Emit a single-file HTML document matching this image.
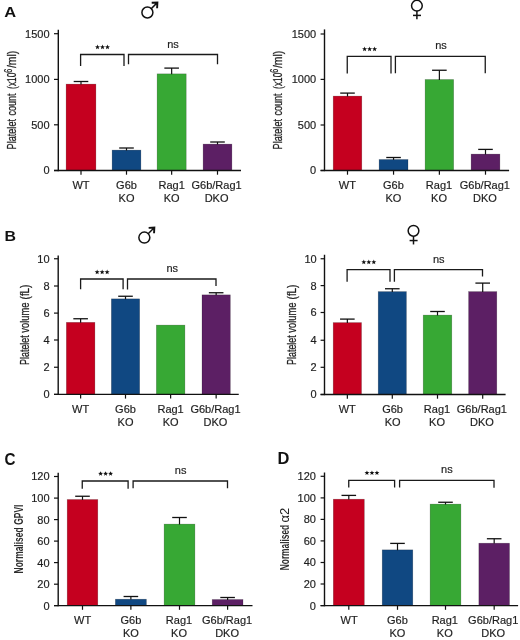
<!DOCTYPE html>
<html><head><meta charset="utf-8"><style>
html,body{margin:0;padding:0;background:#fff;}
body{width:520px;height:640px;overflow:hidden;}
svg{display:block;will-change:transform;}
text{font-family:"Liberation Sans", sans-serif;}
</style></head><body>
<svg width="520" height="640" viewBox="0 0 520 640">
<rect x="66.10" y="84.10" width="29.80" height="86.40" fill="#c5001f" stroke="rgba(0,0,0,0.3)" stroke-width="0.6"/>
<line x1="81.00" y1="81.50" x2="81.00" y2="84.50" stroke="#111" stroke-width="1.2"/>
<line x1="73.70" y1="81.50" x2="88.30" y2="81.50" stroke="#111" stroke-width="1.3"/>
<rect x="112.10" y="150.10" width="28.80" height="20.40" fill="#104882" stroke="rgba(0,0,0,0.3)" stroke-width="0.6"/>
<line x1="126.50" y1="148.00" x2="126.50" y2="150.50" stroke="#111" stroke-width="1.2"/>
<line x1="119.20" y1="148.00" x2="133.80" y2="148.00" stroke="#111" stroke-width="1.3"/>
<rect x="157.10" y="73.85" width="29.10" height="96.65" fill="#37a834" stroke="rgba(0,0,0,0.3)" stroke-width="0.6"/>
<line x1="171.65" y1="68.10" x2="171.65" y2="74.25" stroke="#111" stroke-width="1.2"/>
<line x1="164.35" y1="68.10" x2="178.95" y2="68.10" stroke="#111" stroke-width="1.3"/>
<rect x="203.10" y="144.10" width="28.80" height="26.40" fill="#5c1f64" stroke="rgba(0,0,0,0.3)" stroke-width="0.6"/>
<line x1="217.50" y1="142.00" x2="217.50" y2="144.50" stroke="#111" stroke-width="1.2"/>
<line x1="210.20" y1="142.00" x2="224.80" y2="142.00" stroke="#111" stroke-width="1.3"/>
<line x1="58.30" y1="29.75" x2="58.30" y2="171.15" stroke="#111" stroke-width="1.4"/>
<line x1="54.00" y1="170.50" x2="241.00" y2="170.50" stroke="#111" stroke-width="1.4"/>
<line x1="54.00" y1="33.70" x2="58.30" y2="33.70" stroke="#111" stroke-width="1.2"/>
<text x="49.60" y="37.65" font-size="11" text-anchor="end" fill="#1e1e1e" stroke="#1e1e1e" stroke-width="0.18">1500</text>
<line x1="54.00" y1="79.40" x2="58.30" y2="79.40" stroke="#111" stroke-width="1.2"/>
<text x="49.60" y="83.35" font-size="11" text-anchor="end" fill="#1e1e1e" stroke="#1e1e1e" stroke-width="0.18">1000</text>
<line x1="54.00" y1="124.80" x2="58.30" y2="124.80" stroke="#111" stroke-width="1.2"/>
<text x="49.60" y="128.75" font-size="11" text-anchor="end" fill="#1e1e1e" stroke="#1e1e1e" stroke-width="0.18">500</text>
<line x1="54.00" y1="170.50" x2="58.30" y2="170.50" stroke="#111" stroke-width="1.2"/>
<text x="49.60" y="174.45" font-size="11" text-anchor="end" fill="#1e1e1e" stroke="#1e1e1e" stroke-width="0.18">0</text>
<line x1="81.00" y1="170.50" x2="81.00" y2="174.70" stroke="#111" stroke-width="1.2"/>
<line x1="126.50" y1="170.50" x2="126.50" y2="174.70" stroke="#111" stroke-width="1.2"/>
<line x1="171.65" y1="170.50" x2="171.65" y2="174.70" stroke="#111" stroke-width="1.2"/>
<line x1="217.50" y1="170.50" x2="217.50" y2="174.70" stroke="#111" stroke-width="1.2"/>
<text x="81.00" y="188.60" font-size="11" text-anchor="middle" fill="#1e1e1e" stroke="#1e1e1e" stroke-width="0.18">WT</text>
<text x="126.50" y="188.60" font-size="11" text-anchor="middle" fill="#1e1e1e" stroke="#1e1e1e" stroke-width="0.18">G6b</text>
<text x="126.50" y="201.80" font-size="11" text-anchor="middle" fill="#1e1e1e" stroke="#1e1e1e" stroke-width="0.18">KO</text>
<text x="171.70" y="188.60" font-size="11" text-anchor="middle" fill="#1e1e1e" stroke="#1e1e1e" stroke-width="0.18">Rag1</text>
<text x="171.70" y="201.80" font-size="11" text-anchor="middle" fill="#1e1e1e" stroke="#1e1e1e" stroke-width="0.18">KO</text>
<text x="216.60" y="188.60" font-size="11" text-anchor="middle" fill="#1e1e1e" stroke="#1e1e1e" stroke-width="0.18">G6b/Rag1</text>
<text x="216.60" y="201.80" font-size="11" text-anchor="middle" fill="#1e1e1e" stroke="#1e1e1e" stroke-width="0.18">DKO</text>
<path d="M80.60 65.90 V54.50 H124.00 V65.90" fill="none" stroke="#1a1a1a" stroke-width="1.3"/>
<path d="M128.50 64.30 V54.50 H217.50 V64.30" fill="none" stroke="#1a1a1a" stroke-width="1.3"/>
<polygon points="97.50,44.60 98.15,46.31 99.97,46.40 98.55,47.54 99.03,49.30 97.50,48.30 95.97,49.30 96.45,47.54 95.03,46.40 96.85,46.31" fill="#111"/>
<polygon points="102.50,44.60 103.15,46.31 104.97,46.40 103.55,47.54 104.03,49.30 102.50,48.30 100.97,49.30 101.45,47.54 100.03,46.40 101.85,46.31" fill="#111"/>
<polygon points="107.50,44.60 108.15,46.31 109.97,46.40 108.55,47.54 109.03,49.30 107.50,48.30 105.97,49.30 106.45,47.54 105.03,46.40 106.85,46.31" fill="#111"/>
<text x="173.00" y="47.50" font-size="11" text-anchor="middle" fill="#1e1e1e" stroke="#1e1e1e" stroke-width="0.18">ns</text>
<text x="0" y="0" font-size="12.3" fill="#1e1e1e" stroke="#1e1e1e" stroke-width="0.28" textLength="30.40" lengthAdjust="spacingAndGlyphs" transform="translate(15.80,149.40) rotate(-90)">Platelet</text>
<text x="0" y="0" font-size="12.3" fill="#1e1e1e" stroke="#1e1e1e" stroke-width="0.28" textLength="22.20" lengthAdjust="spacingAndGlyphs" transform="translate(15.80,115.60) rotate(-90)">count</text>
<text x="0" y="0" font-size="12.3" fill="#1e1e1e" stroke="#1e1e1e" stroke-width="0.28" textLength="16.40" lengthAdjust="spacingAndGlyphs" transform="translate(15.80,88.90) rotate(-90)">(x10</text>
<text x="0" y="0" font-size="10" fill="#1e1e1e" stroke="#1e1e1e" stroke-width="0.28" textLength="4.00" lengthAdjust="spacingAndGlyphs" transform="translate(11.60,72.70) rotate(-90)">6</text>
<text x="0" y="0" font-size="12.3" fill="#1e1e1e" stroke="#1e1e1e" stroke-width="0.28" textLength="17.30" lengthAdjust="spacingAndGlyphs" transform="translate(15.80,68.10) rotate(-90)">/ml)</text>
<text x="4.30" y="16.90" font-size="15" text-anchor="start" fill="#111" font-weight="bold" textLength="11.90" lengthAdjust="spacingAndGlyphs">A</text>
<rect x="333.20" y="96.10" width="28.60" height="74.40" fill="#c5001f" stroke="rgba(0,0,0,0.3)" stroke-width="0.6"/>
<line x1="347.50" y1="93.10" x2="347.50" y2="96.50" stroke="#111" stroke-width="1.2"/>
<line x1="340.20" y1="93.10" x2="354.80" y2="93.10" stroke="#111" stroke-width="1.3"/>
<rect x="379.10" y="159.50" width="28.90" height="11.00" fill="#104882" stroke="rgba(0,0,0,0.3)" stroke-width="0.6"/>
<line x1="393.55" y1="157.50" x2="393.55" y2="159.90" stroke="#111" stroke-width="1.2"/>
<line x1="386.25" y1="157.50" x2="400.85" y2="157.50" stroke="#111" stroke-width="1.3"/>
<rect x="425.10" y="79.50" width="28.55" height="91.00" fill="#37a834" stroke="rgba(0,0,0,0.3)" stroke-width="0.6"/>
<line x1="439.38" y1="70.25" x2="439.38" y2="79.90" stroke="#111" stroke-width="1.2"/>
<line x1="432.07" y1="70.25" x2="446.68" y2="70.25" stroke="#111" stroke-width="1.3"/>
<rect x="471.10" y="154.10" width="28.80" height="16.40" fill="#5c1f64" stroke="rgba(0,0,0,0.3)" stroke-width="0.6"/>
<line x1="485.50" y1="149.40" x2="485.50" y2="154.50" stroke="#111" stroke-width="1.2"/>
<line x1="478.20" y1="149.40" x2="492.80" y2="149.40" stroke="#111" stroke-width="1.3"/>
<line x1="324.50" y1="29.40" x2="324.50" y2="171.15" stroke="#111" stroke-width="1.4"/>
<line x1="320.60" y1="170.50" x2="509.10" y2="170.50" stroke="#111" stroke-width="1.4"/>
<line x1="320.60" y1="34.00" x2="324.50" y2="34.00" stroke="#111" stroke-width="1.2"/>
<text x="316.15" y="37.95" font-size="11" text-anchor="end" fill="#1e1e1e" stroke="#1e1e1e" stroke-width="0.18">1500</text>
<line x1="320.60" y1="79.40" x2="324.50" y2="79.40" stroke="#111" stroke-width="1.2"/>
<text x="316.15" y="83.35" font-size="11" text-anchor="end" fill="#1e1e1e" stroke="#1e1e1e" stroke-width="0.18">1000</text>
<line x1="320.60" y1="125.00" x2="324.50" y2="125.00" stroke="#111" stroke-width="1.2"/>
<text x="316.15" y="128.95" font-size="11" text-anchor="end" fill="#1e1e1e" stroke="#1e1e1e" stroke-width="0.18">500</text>
<line x1="320.60" y1="170.50" x2="324.50" y2="170.50" stroke="#111" stroke-width="1.2"/>
<text x="316.15" y="174.45" font-size="11" text-anchor="end" fill="#1e1e1e" stroke="#1e1e1e" stroke-width="0.18">0</text>
<line x1="347.50" y1="170.50" x2="347.50" y2="174.70" stroke="#111" stroke-width="1.2"/>
<line x1="393.55" y1="170.50" x2="393.55" y2="174.70" stroke="#111" stroke-width="1.2"/>
<line x1="439.38" y1="170.50" x2="439.38" y2="174.70" stroke="#111" stroke-width="1.2"/>
<line x1="485.50" y1="170.50" x2="485.50" y2="174.70" stroke="#111" stroke-width="1.2"/>
<text x="347.40" y="188.60" font-size="11" text-anchor="middle" fill="#1e1e1e" stroke="#1e1e1e" stroke-width="0.18">WT</text>
<text x="393.40" y="188.60" font-size="11" text-anchor="middle" fill="#1e1e1e" stroke="#1e1e1e" stroke-width="0.18">G6b</text>
<text x="393.40" y="201.80" font-size="11" text-anchor="middle" fill="#1e1e1e" stroke="#1e1e1e" stroke-width="0.18">KO</text>
<text x="439.00" y="188.60" font-size="11" text-anchor="middle" fill="#1e1e1e" stroke="#1e1e1e" stroke-width="0.18">Rag1</text>
<text x="439.00" y="201.80" font-size="11" text-anchor="middle" fill="#1e1e1e" stroke="#1e1e1e" stroke-width="0.18">KO</text>
<text x="484.90" y="188.60" font-size="11" text-anchor="middle" fill="#1e1e1e" stroke="#1e1e1e" stroke-width="0.18">G6b/Rag1</text>
<text x="484.90" y="201.80" font-size="11" text-anchor="middle" fill="#1e1e1e" stroke="#1e1e1e" stroke-width="0.18">DKO</text>
<path d="M347.25 73.40 V56.40 H391.00 V73.40" fill="none" stroke="#1a1a1a" stroke-width="1.3"/>
<path d="M395.40 73.30 V56.40 H485.25 V73.30" fill="none" stroke="#1a1a1a" stroke-width="1.3"/>
<polygon points="364.60,46.50 365.25,48.21 367.07,48.30 365.65,49.44 366.13,51.20 364.60,50.20 363.07,51.20 363.55,49.44 362.13,48.30 363.95,48.21" fill="#111"/>
<polygon points="369.60,46.50 370.25,48.21 372.07,48.30 370.65,49.44 371.13,51.20 369.60,50.20 368.07,51.20 368.55,49.44 367.13,48.30 368.95,48.21" fill="#111"/>
<polygon points="374.60,46.50 375.25,48.21 377.07,48.30 375.65,49.44 376.13,51.20 374.60,50.20 373.07,51.20 373.55,49.44 372.13,48.30 373.95,48.21" fill="#111"/>
<text x="441.00" y="49.40" font-size="11" text-anchor="middle" fill="#1e1e1e" stroke="#1e1e1e" stroke-width="0.18">ns</text>
<text x="0" y="0" font-size="12.3" fill="#1e1e1e" stroke="#1e1e1e" stroke-width="0.28" textLength="30.40" lengthAdjust="spacingAndGlyphs" transform="translate(281.90,149.40) rotate(-90)">Platelet</text>
<text x="0" y="0" font-size="12.3" fill="#1e1e1e" stroke="#1e1e1e" stroke-width="0.28" textLength="22.20" lengthAdjust="spacingAndGlyphs" transform="translate(281.90,115.60) rotate(-90)">count</text>
<text x="0" y="0" font-size="12.3" fill="#1e1e1e" stroke="#1e1e1e" stroke-width="0.28" textLength="16.40" lengthAdjust="spacingAndGlyphs" transform="translate(281.90,88.90) rotate(-90)">(x10</text>
<text x="0" y="0" font-size="10" fill="#1e1e1e" stroke="#1e1e1e" stroke-width="0.28" textLength="4.00" lengthAdjust="spacingAndGlyphs" transform="translate(278.00,72.70) rotate(-90)">6</text>
<text x="0" y="0" font-size="12.3" fill="#1e1e1e" stroke="#1e1e1e" stroke-width="0.28" textLength="17.30" lengthAdjust="spacingAndGlyphs" transform="translate(281.90,68.10) rotate(-90)">/ml)</text>
<rect x="66.35" y="322.35" width="28.55" height="72.05" fill="#c5001f" stroke="rgba(0,0,0,0.3)" stroke-width="0.6"/>
<line x1="80.62" y1="318.75" x2="80.62" y2="322.75" stroke="#111" stroke-width="1.2"/>
<line x1="73.33" y1="318.75" x2="87.92" y2="318.75" stroke="#111" stroke-width="1.3"/>
<rect x="111.35" y="298.85" width="28.30" height="95.55" fill="#104882" stroke="rgba(0,0,0,0.3)" stroke-width="0.6"/>
<line x1="125.50" y1="296.25" x2="125.50" y2="299.25" stroke="#111" stroke-width="1.2"/>
<line x1="118.20" y1="296.25" x2="132.80" y2="296.25" stroke="#111" stroke-width="1.3"/>
<rect x="156.35" y="325.10" width="28.55" height="69.30" fill="#37a834" stroke="rgba(0,0,0,0.3)" stroke-width="0.6"/>
<rect x="202.00" y="294.85" width="28.30" height="99.55" fill="#5c1f64" stroke="rgba(0,0,0,0.3)" stroke-width="0.6"/>
<line x1="216.15" y1="292.75" x2="216.15" y2="295.25" stroke="#111" stroke-width="1.2"/>
<line x1="208.85" y1="292.75" x2="223.45" y2="292.75" stroke="#111" stroke-width="1.3"/>
<line x1="58.20" y1="255.40" x2="58.20" y2="395.05" stroke="#111" stroke-width="1.4"/>
<line x1="54.00" y1="394.40" x2="238.75" y2="394.40" stroke="#111" stroke-width="1.4"/>
<line x1="54.00" y1="258.75" x2="58.20" y2="258.75" stroke="#111" stroke-width="1.2"/>
<text x="49.60" y="262.70" font-size="11" text-anchor="end" fill="#1e1e1e" stroke="#1e1e1e" stroke-width="0.18">10</text>
<line x1="54.00" y1="286.00" x2="58.20" y2="286.00" stroke="#111" stroke-width="1.2"/>
<text x="49.60" y="289.95" font-size="11" text-anchor="end" fill="#1e1e1e" stroke="#1e1e1e" stroke-width="0.18">8</text>
<line x1="54.00" y1="313.10" x2="58.20" y2="313.10" stroke="#111" stroke-width="1.2"/>
<text x="49.60" y="317.05" font-size="11" text-anchor="end" fill="#1e1e1e" stroke="#1e1e1e" stroke-width="0.18">6</text>
<line x1="54.00" y1="340.00" x2="58.20" y2="340.00" stroke="#111" stroke-width="1.2"/>
<text x="49.60" y="343.95" font-size="11" text-anchor="end" fill="#1e1e1e" stroke="#1e1e1e" stroke-width="0.18">4</text>
<line x1="54.00" y1="367.25" x2="58.20" y2="367.25" stroke="#111" stroke-width="1.2"/>
<text x="49.60" y="371.20" font-size="11" text-anchor="end" fill="#1e1e1e" stroke="#1e1e1e" stroke-width="0.18">2</text>
<line x1="54.00" y1="394.40" x2="58.20" y2="394.40" stroke="#111" stroke-width="1.2"/>
<text x="49.60" y="398.35" font-size="11" text-anchor="end" fill="#1e1e1e" stroke="#1e1e1e" stroke-width="0.18">0</text>
<line x1="80.62" y1="394.40" x2="80.62" y2="398.60" stroke="#111" stroke-width="1.2"/>
<line x1="125.50" y1="394.40" x2="125.50" y2="398.60" stroke="#111" stroke-width="1.2"/>
<line x1="170.62" y1="394.40" x2="170.62" y2="398.60" stroke="#111" stroke-width="1.2"/>
<line x1="216.15" y1="394.40" x2="216.15" y2="398.60" stroke="#111" stroke-width="1.2"/>
<text x="80.60" y="412.50" font-size="11" text-anchor="middle" fill="#1e1e1e" stroke="#1e1e1e" stroke-width="0.18">WT</text>
<text x="125.50" y="412.50" font-size="11" text-anchor="middle" fill="#1e1e1e" stroke="#1e1e1e" stroke-width="0.18">G6b</text>
<text x="125.50" y="425.70" font-size="11" text-anchor="middle" fill="#1e1e1e" stroke="#1e1e1e" stroke-width="0.18">KO</text>
<text x="170.60" y="412.50" font-size="11" text-anchor="middle" fill="#1e1e1e" stroke="#1e1e1e" stroke-width="0.18">Rag1</text>
<text x="170.60" y="425.70" font-size="11" text-anchor="middle" fill="#1e1e1e" stroke="#1e1e1e" stroke-width="0.18">KO</text>
<text x="215.50" y="412.50" font-size="11" text-anchor="middle" fill="#1e1e1e" stroke="#1e1e1e" stroke-width="0.18">G6b/Rag1</text>
<text x="215.50" y="425.70" font-size="11" text-anchor="middle" fill="#1e1e1e" stroke="#1e1e1e" stroke-width="0.18">DKO</text>
<path d="M80.60 289.30 V279.00 H123.10 V289.30" fill="none" stroke="#1a1a1a" stroke-width="1.3"/>
<path d="M127.50 289.60 V279.00 H216.00 V285.90" fill="none" stroke="#1a1a1a" stroke-width="1.3"/>
<polygon points="97.15,269.50 97.80,271.21 99.62,271.30 98.20,272.44 98.68,274.20 97.15,273.20 95.62,274.20 96.10,272.44 94.68,271.30 96.50,271.21" fill="#111"/>
<polygon points="102.15,269.50 102.80,271.21 104.62,271.30 103.20,272.44 103.68,274.20 102.15,273.20 100.62,274.20 101.10,272.44 99.68,271.30 101.50,271.21" fill="#111"/>
<polygon points="107.15,269.50 107.80,271.21 109.62,271.30 108.20,272.44 108.68,274.20 107.15,273.20 105.62,274.20 106.10,272.44 104.68,271.30 106.50,271.21" fill="#111"/>
<text x="172.30" y="271.70" font-size="11" text-anchor="middle" fill="#1e1e1e" stroke="#1e1e1e" stroke-width="0.18">ns</text>
<text x="0" y="0" font-size="12.3" fill="#1e1e1e" stroke="#1e1e1e" stroke-width="0.28" textLength="29.80" lengthAdjust="spacingAndGlyphs" transform="translate(29.40,365.00) rotate(-90)">Platelet</text>
<text x="0" y="0" font-size="12.3" fill="#1e1e1e" stroke="#1e1e1e" stroke-width="0.28" textLength="30.10" lengthAdjust="spacingAndGlyphs" transform="translate(29.40,332.70) rotate(-90)">volume</text>
<text x="0" y="0" font-size="12.3" fill="#1e1e1e" stroke="#1e1e1e" stroke-width="0.28" textLength="14.80" lengthAdjust="spacingAndGlyphs" transform="translate(29.40,299.40) rotate(-90)">(fL)</text>
<text x="4.60" y="241.30" font-size="14.9" text-anchor="start" fill="#111" font-weight="bold" textLength="11.50" lengthAdjust="spacingAndGlyphs">B</text>
<rect x="333.20" y="322.60" width="28.30" height="71.90" fill="#c5001f" stroke="rgba(0,0,0,0.3)" stroke-width="0.6"/>
<line x1="347.35" y1="319.10" x2="347.35" y2="323.00" stroke="#111" stroke-width="1.2"/>
<line x1="340.05" y1="319.10" x2="354.65" y2="319.10" stroke="#111" stroke-width="1.3"/>
<rect x="378.20" y="291.60" width="28.20" height="102.90" fill="#104882" stroke="rgba(0,0,0,0.3)" stroke-width="0.6"/>
<line x1="392.30" y1="288.75" x2="392.30" y2="292.00" stroke="#111" stroke-width="1.2"/>
<line x1="385.00" y1="288.75" x2="399.60" y2="288.75" stroke="#111" stroke-width="1.3"/>
<rect x="423.20" y="315.10" width="28.60" height="79.40" fill="#37a834" stroke="rgba(0,0,0,0.3)" stroke-width="0.6"/>
<line x1="437.50" y1="311.50" x2="437.50" y2="315.50" stroke="#111" stroke-width="1.2"/>
<line x1="430.20" y1="311.50" x2="444.80" y2="311.50" stroke="#111" stroke-width="1.3"/>
<rect x="468.60" y="291.60" width="28.20" height="102.90" fill="#5c1f64" stroke="rgba(0,0,0,0.3)" stroke-width="0.6"/>
<line x1="482.70" y1="283.10" x2="482.70" y2="292.00" stroke="#111" stroke-width="1.2"/>
<line x1="475.40" y1="283.10" x2="490.00" y2="283.10" stroke="#111" stroke-width="1.3"/>
<line x1="324.50" y1="254.75" x2="324.50" y2="395.15" stroke="#111" stroke-width="1.4"/>
<line x1="320.60" y1="394.50" x2="505.60" y2="394.50" stroke="#111" stroke-width="1.4"/>
<line x1="320.60" y1="258.75" x2="324.50" y2="258.75" stroke="#111" stroke-width="1.2"/>
<text x="316.65" y="262.70" font-size="11" text-anchor="end" fill="#1e1e1e" stroke="#1e1e1e" stroke-width="0.18">10</text>
<line x1="320.60" y1="285.60" x2="324.50" y2="285.60" stroke="#111" stroke-width="1.2"/>
<text x="316.65" y="289.55" font-size="11" text-anchor="end" fill="#1e1e1e" stroke="#1e1e1e" stroke-width="0.18">8</text>
<line x1="320.60" y1="312.50" x2="324.50" y2="312.50" stroke="#111" stroke-width="1.2"/>
<text x="316.65" y="316.45" font-size="11" text-anchor="end" fill="#1e1e1e" stroke="#1e1e1e" stroke-width="0.18">6</text>
<line x1="320.60" y1="340.25" x2="324.50" y2="340.25" stroke="#111" stroke-width="1.2"/>
<text x="316.65" y="344.20" font-size="11" text-anchor="end" fill="#1e1e1e" stroke="#1e1e1e" stroke-width="0.18">4</text>
<line x1="320.60" y1="367.30" x2="324.50" y2="367.30" stroke="#111" stroke-width="1.2"/>
<text x="316.65" y="371.25" font-size="11" text-anchor="end" fill="#1e1e1e" stroke="#1e1e1e" stroke-width="0.18">2</text>
<line x1="320.60" y1="394.50" x2="324.50" y2="394.50" stroke="#111" stroke-width="1.2"/>
<text x="316.65" y="398.45" font-size="11" text-anchor="end" fill="#1e1e1e" stroke="#1e1e1e" stroke-width="0.18">0</text>
<line x1="347.35" y1="394.50" x2="347.35" y2="398.70" stroke="#111" stroke-width="1.2"/>
<line x1="392.30" y1="394.50" x2="392.30" y2="398.70" stroke="#111" stroke-width="1.2"/>
<line x1="437.50" y1="394.50" x2="437.50" y2="398.70" stroke="#111" stroke-width="1.2"/>
<line x1="482.70" y1="394.50" x2="482.70" y2="398.70" stroke="#111" stroke-width="1.2"/>
<text x="347.30" y="412.50" font-size="11" text-anchor="middle" fill="#1e1e1e" stroke="#1e1e1e" stroke-width="0.18">WT</text>
<text x="392.60" y="412.50" font-size="11" text-anchor="middle" fill="#1e1e1e" stroke="#1e1e1e" stroke-width="0.18">G6b</text>
<text x="392.60" y="425.70" font-size="11" text-anchor="middle" fill="#1e1e1e" stroke="#1e1e1e" stroke-width="0.18">KO</text>
<text x="437.00" y="412.50" font-size="11" text-anchor="middle" fill="#1e1e1e" stroke="#1e1e1e" stroke-width="0.18">Rag1</text>
<text x="437.00" y="425.70" font-size="11" text-anchor="middle" fill="#1e1e1e" stroke="#1e1e1e" stroke-width="0.18">KO</text>
<text x="481.90" y="412.50" font-size="11" text-anchor="middle" fill="#1e1e1e" stroke="#1e1e1e" stroke-width="0.18">G6b/Rag1</text>
<text x="481.90" y="425.70" font-size="11" text-anchor="middle" fill="#1e1e1e" stroke="#1e1e1e" stroke-width="0.18">DKO</text>
<path d="M347.10 281.80 V269.70 H390.00 V281.80" fill="none" stroke="#1a1a1a" stroke-width="1.3"/>
<path d="M394.40 281.80 V269.70 H482.50 V276.40" fill="none" stroke="#1a1a1a" stroke-width="1.3"/>
<polygon points="363.80,259.60 364.45,261.31 366.27,261.40 364.85,262.54 365.33,264.30 363.80,263.30 362.27,264.30 362.75,262.54 361.33,261.40 363.15,261.31" fill="#111"/>
<polygon points="368.80,259.60 369.45,261.31 371.27,261.40 369.85,262.54 370.33,264.30 368.80,263.30 367.27,264.30 367.75,262.54 366.33,261.40 368.15,261.31" fill="#111"/>
<polygon points="373.80,259.60 374.45,261.31 376.27,261.40 374.85,262.54 375.33,264.30 373.80,263.30 372.27,264.30 372.75,262.54 371.33,261.40 373.15,261.31" fill="#111"/>
<text x="438.75" y="262.75" font-size="11" text-anchor="middle" fill="#1e1e1e" stroke="#1e1e1e" stroke-width="0.18">ns</text>
<text x="0" y="0" font-size="12.3" fill="#1e1e1e" stroke="#1e1e1e" stroke-width="0.28" textLength="29.80" lengthAdjust="spacingAndGlyphs" transform="translate(295.70,365.00) rotate(-90)">Platelet</text>
<text x="0" y="0" font-size="12.3" fill="#1e1e1e" stroke="#1e1e1e" stroke-width="0.28" textLength="30.10" lengthAdjust="spacingAndGlyphs" transform="translate(295.70,332.70) rotate(-90)">volume</text>
<text x="0" y="0" font-size="12.3" fill="#1e1e1e" stroke="#1e1e1e" stroke-width="0.28" textLength="14.80" lengthAdjust="spacingAndGlyphs" transform="translate(295.70,299.40) rotate(-90)">(fL)</text>
<rect x="67.20" y="499.50" width="30.60" height="106.10" fill="#c5001f" stroke="rgba(0,0,0,0.3)" stroke-width="0.6"/>
<line x1="82.50" y1="496.25" x2="82.50" y2="499.90" stroke="#111" stroke-width="1.2"/>
<line x1="75.20" y1="496.25" x2="89.80" y2="496.25" stroke="#111" stroke-width="1.3"/>
<rect x="115.35" y="599.20" width="31.05" height="6.40" fill="#104882" stroke="rgba(0,0,0,0.3)" stroke-width="0.6"/>
<line x1="130.88" y1="596.50" x2="130.88" y2="599.60" stroke="#111" stroke-width="1.2"/>
<line x1="123.58" y1="596.50" x2="138.18" y2="596.50" stroke="#111" stroke-width="1.3"/>
<rect x="164.10" y="524.10" width="30.80" height="81.50" fill="#37a834" stroke="rgba(0,0,0,0.3)" stroke-width="0.6"/>
<line x1="179.50" y1="517.50" x2="179.50" y2="524.50" stroke="#111" stroke-width="1.2"/>
<line x1="172.20" y1="517.50" x2="186.80" y2="517.50" stroke="#111" stroke-width="1.3"/>
<rect x="212.20" y="599.50" width="30.80" height="6.10" fill="#5c1f64" stroke="rgba(0,0,0,0.3)" stroke-width="0.6"/>
<line x1="227.60" y1="597.50" x2="227.60" y2="599.90" stroke="#111" stroke-width="1.2"/>
<line x1="220.30" y1="597.50" x2="234.90" y2="597.50" stroke="#111" stroke-width="1.3"/>
<line x1="58.20" y1="472.75" x2="58.20" y2="606.25" stroke="#111" stroke-width="1.4"/>
<line x1="54.00" y1="605.60" x2="252.50" y2="605.60" stroke="#111" stroke-width="1.4"/>
<line x1="54.00" y1="476.50" x2="58.20" y2="476.50" stroke="#111" stroke-width="1.2"/>
<text x="49.60" y="480.45" font-size="11" text-anchor="end" fill="#1e1e1e" stroke="#1e1e1e" stroke-width="0.18">120</text>
<line x1="54.00" y1="498.10" x2="58.20" y2="498.10" stroke="#111" stroke-width="1.2"/>
<text x="49.60" y="502.05" font-size="11" text-anchor="end" fill="#1e1e1e" stroke="#1e1e1e" stroke-width="0.18">100</text>
<line x1="54.00" y1="519.60" x2="58.20" y2="519.60" stroke="#111" stroke-width="1.2"/>
<text x="49.60" y="523.55" font-size="11" text-anchor="end" fill="#1e1e1e" stroke="#1e1e1e" stroke-width="0.18">80</text>
<line x1="54.00" y1="541.10" x2="58.20" y2="541.10" stroke="#111" stroke-width="1.2"/>
<text x="49.60" y="545.05" font-size="11" text-anchor="end" fill="#1e1e1e" stroke="#1e1e1e" stroke-width="0.18">60</text>
<line x1="54.00" y1="562.60" x2="58.20" y2="562.60" stroke="#111" stroke-width="1.2"/>
<text x="49.60" y="566.55" font-size="11" text-anchor="end" fill="#1e1e1e" stroke="#1e1e1e" stroke-width="0.18">40</text>
<line x1="54.00" y1="584.20" x2="58.20" y2="584.20" stroke="#111" stroke-width="1.2"/>
<text x="49.60" y="588.15" font-size="11" text-anchor="end" fill="#1e1e1e" stroke="#1e1e1e" stroke-width="0.18">20</text>
<line x1="54.00" y1="605.60" x2="58.20" y2="605.60" stroke="#111" stroke-width="1.2"/>
<text x="49.60" y="609.55" font-size="11" text-anchor="end" fill="#1e1e1e" stroke="#1e1e1e" stroke-width="0.18">0</text>
<line x1="82.50" y1="605.60" x2="82.50" y2="609.80" stroke="#111" stroke-width="1.2"/>
<line x1="130.88" y1="605.60" x2="130.88" y2="609.80" stroke="#111" stroke-width="1.2"/>
<line x1="179.50" y1="605.60" x2="179.50" y2="609.80" stroke="#111" stroke-width="1.2"/>
<line x1="227.60" y1="605.60" x2="227.60" y2="609.80" stroke="#111" stroke-width="1.2"/>
<text x="82.60" y="623.80" font-size="11" text-anchor="middle" fill="#1e1e1e" stroke="#1e1e1e" stroke-width="0.18">WT</text>
<text x="130.90" y="623.80" font-size="11" text-anchor="middle" fill="#1e1e1e" stroke="#1e1e1e" stroke-width="0.18">G6b</text>
<text x="130.90" y="637.00" font-size="11" text-anchor="middle" fill="#1e1e1e" stroke="#1e1e1e" stroke-width="0.18">KO</text>
<text x="179.00" y="623.80" font-size="11" text-anchor="middle" fill="#1e1e1e" stroke="#1e1e1e" stroke-width="0.18">Rag1</text>
<text x="179.00" y="637.00" font-size="11" text-anchor="middle" fill="#1e1e1e" stroke="#1e1e1e" stroke-width="0.18">KO</text>
<text x="227.10" y="623.80" font-size="11" text-anchor="middle" fill="#1e1e1e" stroke="#1e1e1e" stroke-width="0.18">G6b/Rag1</text>
<text x="227.10" y="637.00" font-size="11" text-anchor="middle" fill="#1e1e1e" stroke="#1e1e1e" stroke-width="0.18">DKO</text>
<path d="M82.25 488.80 V481.00 H128.10 V488.80" fill="none" stroke="#1a1a1a" stroke-width="1.3"/>
<path d="M133.10 488.30 V481.00 H227.50 V488.20" fill="none" stroke="#1a1a1a" stroke-width="1.3"/>
<polygon points="100.60,471.15 101.25,472.86 103.07,472.95 101.65,474.09 102.13,475.85 100.60,474.85 99.07,475.85 99.55,474.09 98.13,472.95 99.95,472.86" fill="#111"/>
<polygon points="105.60,471.15 106.25,472.86 108.07,472.95 106.65,474.09 107.13,475.85 105.60,474.85 104.07,475.85 104.55,474.09 103.13,472.95 104.95,472.86" fill="#111"/>
<polygon points="110.60,471.15 111.25,472.86 113.07,472.95 111.65,474.09 112.13,475.85 110.60,474.85 109.07,475.85 109.55,474.09 108.13,472.95 109.95,472.86" fill="#111"/>
<text x="180.60" y="474.00" font-size="11" text-anchor="middle" fill="#1e1e1e" stroke="#1e1e1e" stroke-width="0.18">ns</text>
<text x="0" y="0" font-size="13" font-weight="bold" fill="#2e2e2e" textLength="46.00" lengthAdjust="spacingAndGlyphs" transform="translate(22.70,573.40) rotate(-90)">Normalised</text>
<text x="0" y="0" font-size="13" font-weight="bold" fill="#2e2e2e" textLength="20.20" lengthAdjust="spacingAndGlyphs" transform="translate(22.70,524.80) rotate(-90)">GPVI</text>
<text x="4.60" y="464.50" font-size="16.2" text-anchor="start" fill="#111" font-weight="bold" textLength="11.00" lengthAdjust="spacingAndGlyphs">C</text>
<rect x="333.30" y="499.20" width="31.00" height="106.40" fill="#c5001f" stroke="rgba(0,0,0,0.3)" stroke-width="0.6"/>
<line x1="348.80" y1="495.40" x2="348.80" y2="499.60" stroke="#111" stroke-width="1.2"/>
<line x1="341.50" y1="495.40" x2="356.10" y2="495.40" stroke="#111" stroke-width="1.3"/>
<rect x="382.20" y="549.85" width="30.60" height="55.75" fill="#104882" stroke="rgba(0,0,0,0.3)" stroke-width="0.6"/>
<line x1="397.50" y1="543.40" x2="397.50" y2="550.25" stroke="#111" stroke-width="1.2"/>
<line x1="390.20" y1="543.40" x2="404.80" y2="543.40" stroke="#111" stroke-width="1.3"/>
<rect x="430.10" y="504.10" width="30.80" height="101.50" fill="#37a834" stroke="rgba(0,0,0,0.3)" stroke-width="0.6"/>
<line x1="445.50" y1="502.25" x2="445.50" y2="504.50" stroke="#111" stroke-width="1.2"/>
<line x1="438.20" y1="502.25" x2="452.80" y2="502.25" stroke="#111" stroke-width="1.3"/>
<rect x="478.85" y="543.20" width="30.65" height="62.40" fill="#5c1f64" stroke="rgba(0,0,0,0.3)" stroke-width="0.6"/>
<line x1="494.18" y1="538.75" x2="494.18" y2="543.60" stroke="#111" stroke-width="1.2"/>
<line x1="486.88" y1="538.75" x2="501.48" y2="538.75" stroke="#111" stroke-width="1.3"/>
<line x1="324.50" y1="472.50" x2="324.50" y2="606.25" stroke="#111" stroke-width="1.4"/>
<line x1="320.60" y1="605.60" x2="518.10" y2="605.60" stroke="#111" stroke-width="1.4"/>
<line x1="320.60" y1="476.30" x2="324.50" y2="476.30" stroke="#111" stroke-width="1.2"/>
<text x="315.90" y="480.25" font-size="11" text-anchor="end" fill="#1e1e1e" stroke="#1e1e1e" stroke-width="0.18">120</text>
<line x1="320.60" y1="497.90" x2="324.50" y2="497.90" stroke="#111" stroke-width="1.2"/>
<text x="315.90" y="501.85" font-size="11" text-anchor="end" fill="#1e1e1e" stroke="#1e1e1e" stroke-width="0.18">100</text>
<line x1="320.60" y1="519.40" x2="324.50" y2="519.40" stroke="#111" stroke-width="1.2"/>
<text x="315.90" y="523.35" font-size="11" text-anchor="end" fill="#1e1e1e" stroke="#1e1e1e" stroke-width="0.18">80</text>
<line x1="320.60" y1="540.90" x2="324.50" y2="540.90" stroke="#111" stroke-width="1.2"/>
<text x="315.90" y="544.85" font-size="11" text-anchor="end" fill="#1e1e1e" stroke="#1e1e1e" stroke-width="0.18">60</text>
<line x1="320.60" y1="562.50" x2="324.50" y2="562.50" stroke="#111" stroke-width="1.2"/>
<text x="315.90" y="566.45" font-size="11" text-anchor="end" fill="#1e1e1e" stroke="#1e1e1e" stroke-width="0.18">40</text>
<line x1="320.60" y1="584.00" x2="324.50" y2="584.00" stroke="#111" stroke-width="1.2"/>
<text x="315.90" y="587.95" font-size="11" text-anchor="end" fill="#1e1e1e" stroke="#1e1e1e" stroke-width="0.18">20</text>
<line x1="320.60" y1="605.60" x2="324.50" y2="605.60" stroke="#111" stroke-width="1.2"/>
<text x="315.90" y="609.55" font-size="11" text-anchor="end" fill="#1e1e1e" stroke="#1e1e1e" stroke-width="0.18">0</text>
<line x1="348.80" y1="605.60" x2="348.80" y2="609.80" stroke="#111" stroke-width="1.2"/>
<line x1="397.50" y1="605.60" x2="397.50" y2="609.80" stroke="#111" stroke-width="1.2"/>
<line x1="445.50" y1="605.60" x2="445.50" y2="609.80" stroke="#111" stroke-width="1.2"/>
<line x1="494.18" y1="605.60" x2="494.18" y2="609.80" stroke="#111" stroke-width="1.2"/>
<text x="349.10" y="623.80" font-size="11" text-anchor="middle" fill="#1e1e1e" stroke="#1e1e1e" stroke-width="0.18">WT</text>
<text x="397.40" y="623.80" font-size="11" text-anchor="middle" fill="#1e1e1e" stroke="#1e1e1e" stroke-width="0.18">G6b</text>
<text x="397.40" y="636.80" font-size="11" text-anchor="middle" fill="#1e1e1e" stroke="#1e1e1e" stroke-width="0.18">KO</text>
<text x="444.80" y="623.80" font-size="11" text-anchor="middle" fill="#1e1e1e" stroke="#1e1e1e" stroke-width="0.18">Rag1</text>
<text x="444.80" y="636.80" font-size="11" text-anchor="middle" fill="#1e1e1e" stroke="#1e1e1e" stroke-width="0.18">KO</text>
<text x="493.20" y="623.80" font-size="11" text-anchor="middle" fill="#1e1e1e" stroke="#1e1e1e" stroke-width="0.18">G6b/Rag1</text>
<text x="493.20" y="636.80" font-size="11" text-anchor="middle" fill="#1e1e1e" stroke="#1e1e1e" stroke-width="0.18">DKO</text>
<path d="M348.75 487.55 V480.40 H394.60 V487.55" fill="none" stroke="#1a1a1a" stroke-width="1.3"/>
<path d="M399.60 487.55 V480.40 H494.00 V487.80" fill="none" stroke="#1a1a1a" stroke-width="1.3"/>
<polygon points="366.95,470.40 367.60,472.11 369.42,472.20 368.00,473.34 368.48,475.10 366.95,474.10 365.42,475.10 365.90,473.34 364.48,472.20 366.30,472.11" fill="#111"/>
<polygon points="371.95,470.40 372.60,472.11 374.42,472.20 373.00,473.34 373.48,475.10 371.95,474.10 370.42,475.10 370.90,473.34 369.48,472.20 371.30,472.11" fill="#111"/>
<polygon points="376.95,470.40 377.60,472.11 379.42,472.20 378.00,473.34 378.48,475.10 376.95,474.10 375.42,475.10 375.90,473.34 374.48,472.20 376.30,472.11" fill="#111"/>
<text x="446.90" y="473.10" font-size="11" text-anchor="middle" fill="#1e1e1e" stroke="#1e1e1e" stroke-width="0.18">ns</text>
<text x="0" y="0" font-size="13" font-weight="bold" fill="#2e2e2e" textLength="45.30" lengthAdjust="spacingAndGlyphs" transform="translate(289.00,570.20) rotate(-90)">Normalised</text>
<text x="0" y="0" font-size="13" fill="#1e1e1e" font-family="Liberation Serif" transform="translate(289.00,522.60) rotate(-90)">α2</text>
<text x="277.50" y="463.60" font-size="15.7" text-anchor="start" fill="#111" font-weight="bold" textLength="11.90" lengthAdjust="spacingAndGlyphs">D</text>
<circle cx="147.4" cy="12.5" r="5.5" fill="none" stroke="#111" stroke-width="1.5"/>
<line x1="151.20" y1="8.70" x2="157.00" y2="2.90" stroke="#111" stroke-width="1.5"/>
<path d="M151.70 2.80 L157.40 2.50 L157.10 8.20" fill="none" stroke="#111" stroke-width="1.9" stroke-linejoin="miter"/>
<path d="M154.50 2.70 L157.70 2.20 L157.20 5.40 Z" fill="#111"/>
<circle cx="144.35" cy="237.6" r="5.5" fill="none" stroke="#111" stroke-width="1.5"/>
<line x1="148.15" y1="233.80" x2="153.95" y2="228.00" stroke="#111" stroke-width="1.5"/>
<path d="M148.65 227.90 L154.35 227.60 L154.05 233.30" fill="none" stroke="#111" stroke-width="1.9" stroke-linejoin="miter"/>
<path d="M151.45 227.80 L154.65 227.30 L154.15 230.50 Z" fill="#111"/>
<circle cx="416.9" cy="5.7" r="5.35" fill="none" stroke="#111" stroke-width="1.5"/>
<line x1="416.9" y1="11.0" x2="416.9" y2="19.3" stroke="#111" stroke-width="1.5"/>
<line x1="413.0" y1="15.399999999999999" x2="421.0" y2="15.399999999999999" stroke="#111" stroke-width="1.5"/>
<circle cx="413.5" cy="230.85" r="5.35" fill="none" stroke="#111" stroke-width="1.5"/>
<line x1="413.5" y1="236.15" x2="413.5" y2="244.45" stroke="#111" stroke-width="1.5"/>
<line x1="409.6" y1="240.54999999999998" x2="417.6" y2="240.54999999999998" stroke="#111" stroke-width="1.5"/>
</svg>
</body></html>
